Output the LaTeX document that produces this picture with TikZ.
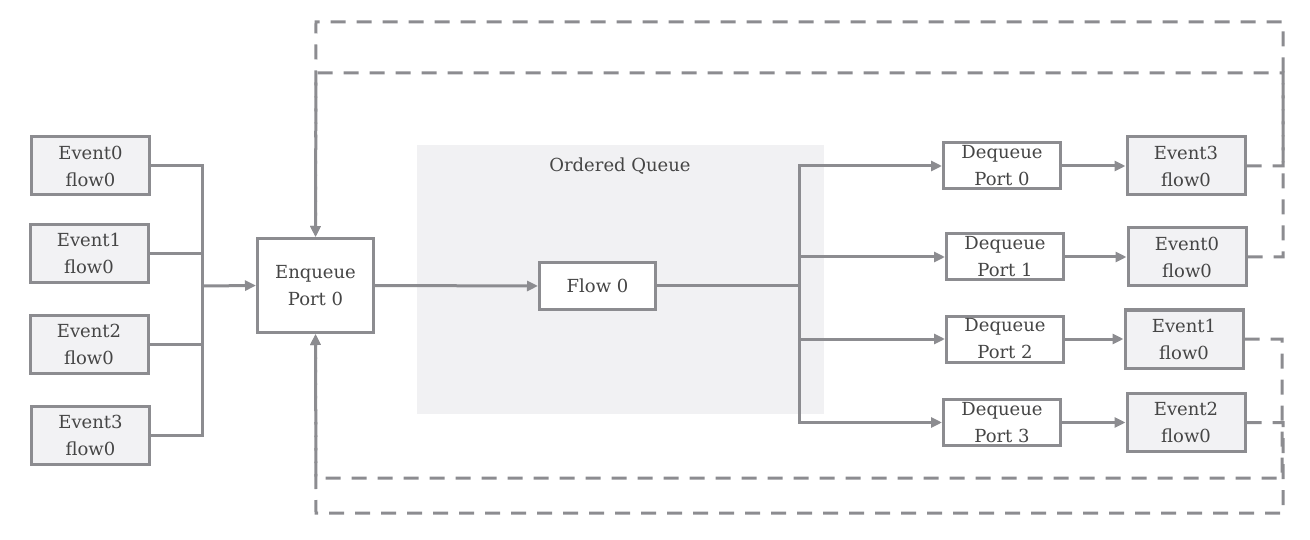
\documentclass[tikz,border=0pt]{standalone}
\usepackage{fontspec}
\setmainfont{DejaVu Serif}
\usetikzlibrary{arrows.meta}
\definecolor{ln}{HTML}{8C8C90}
\definecolor{tx}{HTML}{454545}
\definecolor{bgq}{HTML}{F1F1F3}
\definecolor{evf}{HTML}{F2F2F4}
\tikzset{
  box/.style={draw=ln, line width=3pt, text=tx, align=center, inner sep=0pt,
    font=\fontsize{18}{27}\selectfont},
  evbox/.style={box, fill=evf, minimum width=118pt, minimum height=58pt},
  portbox/.style={box, fill=white, minimum width=117pt, minimum height=46pt},
  conn/.style={draw=ln, line width=3pt},
  arr/.style={conn, -{Triangle[length=11pt,width=10pt]}},
  darr/.style={arr, dash pattern=on 15pt off 11pt},
}
\begin{document}
\begin{tikzpicture}[x=1pt,y=-1pt]
\useasboundingbox (0,0) rectangle (1310,540);
% background of ordered queue
\fill[bgq] (417,145) rectangle (824,414);
\node[text=tx, font=\fontsize{18}{22}\selectfont] (oq) at (620,166) {Ordered Queue};

% left events
\node[evbox] (e0) at (90.5,166) {Event0\\flow0};
\node[evbox] (e1) at (89,253.5) {Event1\\flow0};
\node[evbox] (e2) at (89,344) {Event2\\flow0};
\node[evbox] (e3) at (90.5,435) {Event3\\flow0};

% enqueue port
\node[box, fill=white, minimum width=116pt, minimum height=94pt] (enq) at (315.5,285.5) {Enqueue\\Port 0};

% flow 0
\node[box, fill=white, minimum width=116pt, minimum height=47pt] (flow) at (597.5,286) {Flow 0};

% dequeue ports
\node[portbox] (d0) at (1002,166) {Dequeue\\Port 0};
\node[portbox] (d1) at (1005,257) {Dequeue\\Port 1};
\node[portbox] (d2) at (1005,339) {Dequeue\\Port 2};
\node[portbox] (d3) at (1002,422.5) {Dequeue\\Port 3};

% right events
\node[evbox] (r3) at (1186,166) {Event3\\flow0};
\node[evbox] (r0) at (1187,257) {Event0\\flow0};
\node[evbox] (r1) at (1184,339) {Event1\\flow0};
\node[evbox] (r2) at (1186,422.5) {Event2\\flow0};

% left bus
\coordinate (bus) at (202,286);
\coordinate (bt) at (202,166);
\coordinate (bb) at (202,435);
\draw[conn] (e0.east) -- (bt) -- (bb) -- (e3.east);
\draw[conn] (e1.east) -- (e1.east -| bus);
\draw[conn] (e2.east) -- (e2.east -| bus);
\draw[arr] (bus) -- (enq.west);

% enqueue -> flow
\draw[arr] (enq.east) -- (flow.west);

% right trunk
\coordinate (tr) at (799,286);
\draw[conn] (flow.east) -- (tr);
\draw[conn] (799,166) -- (799,422.5);
\draw[arr] (tr) |- (d0.west);
\draw[arr] (tr) |- (d1.west);
\draw[arr] (tr) |- (d2.west);
\draw[arr] (tr) |- (d3.west);

% dequeue -> events
\draw[arr] (d0.east) -- (r3.west);
\draw[arr] (d1.east) -- (r0.west);
\draw[arr] (d2.east) -- (r1.west);
\draw[arr] (d3.east) -- (r2.west);

% feedback dashed loops
\coordinate (t3a) at (1283,166);
\coordinate (t3b) at (1283,22);
\coordinate (t3c) at (316,22);
\coordinate (t0a) at (1283,257);
\coordinate (t0b) at (1283,73);
\coordinate (t0c) at (316,73);
\coordinate (b1a) at (1282,339);
\coordinate (b1b) at (1282,478);
\coordinate (b1c) at (316,478);
\coordinate (b2a) at (1283,422.5);
\coordinate (b2b) at (1283,513);
\coordinate (b2c) at (316,513);
\draw[darr] (r3.east) -- (t3a) -- (t3b) -- (t3c) -- (enq.north);
\draw[darr] (r0.east) -- (t0a) -- (t0b) -- (t0c) -- (enq.north);
\draw[darr] (r1.east) -- (b1a) -- (b1b) -- (b1c) -- (enq.south);
\draw[darr] (r2.east) -- (b2a) -- (b2b) -- (b2c) -- (enq.south);
\end{tikzpicture}
\end{document}
